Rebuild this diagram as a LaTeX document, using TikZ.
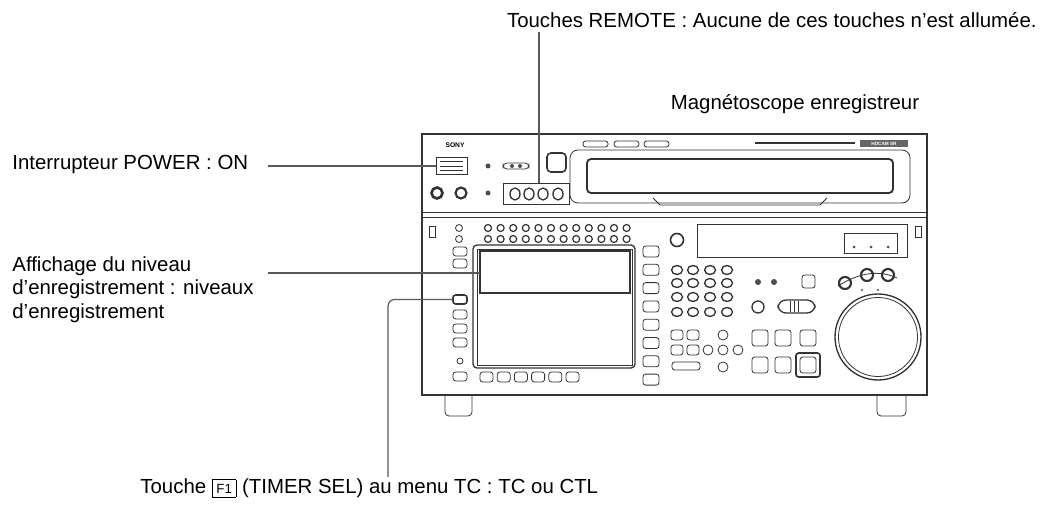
\documentclass[tikz,border=0pt]{standalone}
\usepackage{fontspec}
\setmainfont{Liberation Sans}
\begin{document}
\begin{tikzpicture}[x=0.75pt,y=-0.75pt,line width=0.6pt,
  lbl/.style={font=\fontsize{15.3}{17.6}\selectfont,inner sep=0pt},
  lead/.style={draw=black!65,line width=0.9pt},
  dev/.style={draw=black!80,line width=0.6pt},
  btn/.style={draw=black!80,rounded corners=2pt,line width=0.6pt}]
\useasboundingbox (0,0) rectangle (1042,506);
% labels
\node[lbl,anchor=east] (remote) at (1037,20) {Touches REMOTE : Aucune de ces touches n'est allumée.};
\node[lbl] (vtr) at (795,104) {Magnétoscope enregistreur};
\node[lbl,anchor=west] (power) at (12,164) {Interrupteur POWER : ON};
\node[lbl,anchor=north west,align=left] (level) at (12,256) {Affichage du niveau\\d'enregistrement : niveaux\\d'enregistrement};
\node[lbl,anchor=west] (f1) at (140,488) {Touche \fbox{\fontsize{10}{11}\selectfont F1} (TIMER SEL) au menu TC : TC ou CTL};
% device body
\draw[dev,line width=1pt] (422,134) rectangle (927,395);
\draw[dev] (422,212) -- (927,212);
\draw[dev] (422,217) -- (927,217);
\draw[dev,rounded corners=3pt] (445,395) -- (445,416) -- (472,416) -- (472,395);
\draw[dev,rounded corners=3pt] (877,395) -- (877,416) -- (906,416) -- (906,395);
% upper part
\node[font=\fontsize{5}{6}\selectfont\bfseries] (sony) at (455,145) {SONY};
\draw[dev] (436,157) rectangle (467,174);
\draw[dev] (440,161) -- (463,161) (440,166) -- (463,166) (440,170) -- (463,170);
\coordinate (pw) at (436,166);
\fill[black!70] (488,166) circle (2.5);
\draw[dev,rounded corners=3pt] (503,163) rectangle (529,169);
\fill[black!70] (512,166) circle (2) (520,166) circle (2);
\draw[dev,line width=1.2pt,rounded corners=3pt] (547,153) rectangle (566,172);
\draw[dev,line width=2pt] (437,193) circle (5.5);
\draw[dev,line width=1.6pt] (461,193) circle (5.5);
\fill[black!70] (488,193) circle (2.5);
\draw[dev] (503,183) rectangle (569,204);
\coordinate (rem) at (539,183);
\foreach \x in {515,529,543,558} \draw[dev,line width=1pt] (\x,194) ellipse (5 and 6);
\draw[dev,rounded corners=6pt] (570,150) rectangle (910,203);
\draw[dev,line width=1.4pt,rounded corners=3pt] (587,159) rectangle (893,193);
\draw[dev] (653,198) -- (660,205) -- (820,205) -- (827,198);
\foreach \x in {583,614,644} \draw[dev,rounded corners=2pt] (\x,141) rectangle ++(25,6);
\draw[dev,line width=1.5pt] (755,143) -- (855,143);
\fill[black!60] (860,140) rectangle (908,147);
\node[font=\fontsize{3.5}{4}\selectfont\bfseries,text=white] at (884,143.5) {HDCAM SR};
% lower part
\draw[dev] (429,226) rectangle (435,237);
\draw[dev] (915,226) rectangle (921,237);
\draw[dev] (459,228) circle (3.5) (459,239) circle (3.5);
\foreach \y in {247,259,310,324,338,372} \draw[btn] (453,\y) rectangle ++(14,9);
\draw[btn,line width=1.2pt] (453,295) rectangle ++(14,9);
\coordinate (f1b) at (453,299.5);
\draw[dev] (460,361) circle (3);
\foreach \x in {0,...,11} {\draw[dev,line width=0.9pt] (488+\x*12.6,228) circle (3.5); \draw[dev,line width=0.9pt] (488+\x*12.6,239) circle (3.5);}
\draw[dev,line width=1pt,rounded corners=3pt] (473,245) rectangle (635,368);
\draw[dev] (477,249) rectangle (632,365);
\draw[dev,line width=1pt] (480,251) rectangle (630,293);
\coordinate (lvl) at (480,273);
\foreach \i in {0,...,5} \draw[btn] (480+\i*17.2,372) rectangle ++(13,10);
\foreach \i in {0,...,7} \draw[btn] (643,246+\i*18.3) rectangle ++(16,11);
\draw[dev,line width=1.2pt] (677,240) circle (6.5);
\draw[dev] (697,224) rectangle (907,257);
\draw[dev] (844,233) rectangle (897,253);
\foreach \x in {854,871,888} \fill[black!70] (\x,247) circle (1.5);
\foreach \x in {677,693,710,727} \foreach \y in {270,283,297,312} \draw[dev,line width=1pt] (\x,\y) ellipse (5.5 and 4.5);
\fill[black!70] (758,282) circle (3) (774,282) circle (3);
\draw[btn] (802,275) rectangle (815,288);
\draw[dev,line width=1pt] (758,307) circle (6);
\draw[dev,line width=1pt,rounded corners=6pt] (778,300) rectangle (815,313);
\draw[dev] (790,301) -- (790,312) (794,301) -- (794,312) (798,301) -- (798,312);
\foreach \x/\y in {845/283,867/275,888/275} \draw[dev,line width=1.6pt] (\x,\y) circle (6);
\draw[dev] (838,286) .. controls (860,272) and (880,270) .. (897,278);
\fill[black!70] (862,290) circle (1.2) (878,290) circle (1.2);
\draw[dev,line width=1pt] (878,337) circle (43);
\draw[dev] (878,337) circle (39.5);
\foreach \x in {677,693} \draw[btn] (\x-6,330) rectangle ++(12,10);
\draw[dev] (723,335) circle (5);
\foreach \x in {677,693} \draw[btn] (\x-6,345) rectangle ++(12,10);
\foreach \x in {708,723,738} \draw[dev] (\x,350) ellipse (5 and 5);
\draw[btn] (672,362) rectangle (700,370);
\draw[dev] (723,367) circle (5);
\foreach \x in {752,775,800} \draw[btn] (\x,330) rectangle ++(16,16);
\foreach \x in {752,775} \draw[btn] (\x,357) rectangle ++(16,16);
\draw[btn,line width=1.2pt] (796,353) rectangle (820,377);
\draw[btn] (800,357) rectangle (816,373);
% leaders
\coordinate (remtop) at (539,32);
\coordinate (pwl) at (268,166);
\coordinate (lvll) at (268,273);
\coordinate (f1c) at (388,299.5);
\coordinate (f1end) at (388,477);
\draw[lead] (remtop) -- (rem);
\draw[lead] (pwl) -- (pw);
\draw[lead] (lvll) -- (lvl);
\draw[lead,rounded corners=5pt] (f1b) -- (f1c) -- (f1end);
\end{tikzpicture}
\end{document}
